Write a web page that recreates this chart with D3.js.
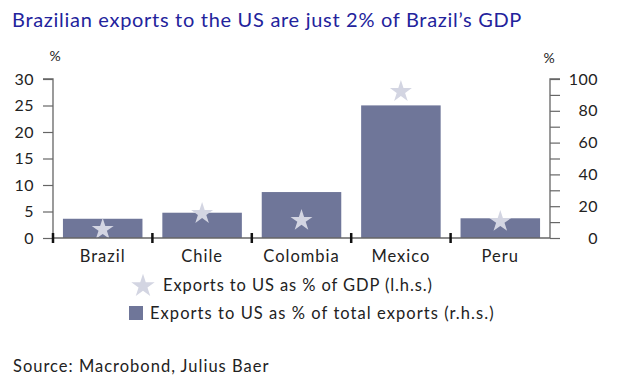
<!DOCTYPE html>
<html><head><meta charset="utf-8">
<script src="https://cdn.jsdelivr.net/npm/d3@7"></script>
<style>body{margin:0;background:#fff}svg{display:block}text{font-family:Lato,"Noto Sans",sans-serif}</style>
</head><body>
<script>
const categories = ["Brazil","Chile","Colombia","Mexico","Peru"];
const gdpShare = [1.8, 4.8, 3.5, 27.8, 3.3];        // l.h.s., stars
const exportShare = [12.1, 15.9, 28.9, 83.4, 12.4]; // r.h.s., bars
const leftTicks = [0,5,10,15,20,25,30];
const rightMajor = [0,20,40,60,80,100];
const rightMinor = [10,30,50,70,90];

const W=620,H=392;
const svg=d3.select("body").append("svg").attr("width",W).attr("height",H);
const x0=53,x1=550,yTop=79,yBot=238;
const x=d3.scaleBand().domain(categories).range([x0,x1]).paddingInner(0.2).paddingOuter(0.1);
const yL=d3.scaleLinear().domain([0,30]).range([yBot,yTop]);
const yR=d3.scaleLinear().domain([0,100]).range([yBot,yTop]);
const barColor="#6f7699", starColor="#d3d5e2", axisColor="#666", txt="#222";
const fs=16.5, ls=1;

svg.append("text").attr("x",12).attr("y",27).attr("fill","#23239c").attr("font-size",20).attr("letter-spacing",0.7).text("Brazilian exports to the US are just 2% of Brazil’s GDP");

// bars
svg.selectAll("rect.bar").data(categories).join("rect").attr("class","bar")
  .attr("x",d=>x(d)).attr("width",x.bandwidth())
  .attr("y",(d,i)=>yR(exportShare[i])).attr("height",(d,i)=>yBot-yR(exportShare[i]))
  .attr("fill",barColor);
// stars
const star=d3.symbol().type(d3.symbolStar).size(150);
svg.selectAll("path.star").data(categories).join("path").attr("class","star")
  .attr("d",star).attr("fill",starColor)
  .attr("transform",(d,i)=>`translate(${x(d)+x.bandwidth()/2},${yL(gdpShare[i])+1})`);

// left axis
const gL=svg.append("g").attr("transform",`translate(${x0},0)`)
  .call(d3.axisLeft(yL).tickValues(leftTicks).tickSize(10).tickPadding(9));
// right axis
const gR=svg.append("g").attr("transform",`translate(${x1},0)`)
  .call(d3.axisRight(yR).tickValues(rightMajor).tickSize(10).tickPadding(18));
const gRm=svg.append("g").attr("transform",`translate(${x1},0)`)
  .call(d3.axisRight(yR).tickValues(rightMinor).tickSize(10).tickFormat(""));
gRm.select(".domain").remove();
[gL,gR,gRm].forEach(g=>{
  g.selectAll(".domain").attr("stroke",axisColor).attr("stroke-width",1.3);
  g.selectAll(".tick line").attr("stroke",axisColor).attr("stroke-width",1.2);
  g.selectAll(".tick text").attr("font-size",16).attr("letter-spacing",0.5).attr("fill",txt);
});
gL.select(".domain").attr("d",`M-10,${yTop}H0V${yBot}`);
gR.select(".domain").attr("d",`M10,${yTop}H0V${yBot}`);
gR.selectAll(".tick text").attr("text-anchor","end").attr("x",48);

// x axis
const gX=svg.append("g").attr("transform",`translate(0,${yBot})`)
  .call(d3.axisBottom(x).tickSize(0).tickPadding(12));
gX.select(".domain").attr("stroke",axisColor).attr("stroke-width",1.3).attr("d",`M${x0},0H${x1}`);
gX.selectAll(".tick text").attr("font-size",fs).attr("letter-spacing",ls).attr("fill",txt);
const seps=categories.map(c=>x(c)-(x.step()*x.paddingInner())/2);
svg.append("g").selectAll("line").data(seps).join("line")
  .attr("x1",d=>d).attr("x2",d=>d).attr("y1",yBot-5).attr("y2",yBot+5)
  .attr("stroke","#111").attr("stroke-width",2.5);

svg.append("text").attr("x",55).attr("y",61).attr("text-anchor","middle").attr("font-size",14).attr("fill",txt).text("%");
svg.append("text").attr("x",549).attr("y",63).attr("text-anchor","middle").attr("font-size",14).attr("fill",txt).text("%");

// legend
svg.append("path").attr("d",d3.symbol().type(d3.symbolStar).size(170)()).attr("fill",starColor).attr("transform","translate(143,286)");
svg.append("text").attr("x",163).attr("y",291).attr("font-size",fs).attr("letter-spacing",0.9).attr("fill",txt).text("Exports to US as % of GDP (l.h.s.)");
svg.append("rect").attr("x",129).attr("y",306).attr("width",14).attr("height",14).attr("fill",barColor);
svg.append("text").attr("x",150).attr("y",319).attr("font-size",fs).attr("letter-spacing",1.05).attr("fill",txt).text("Exports to US as % of total exports (r.h.s.)");

svg.append("text").attr("x",13).attr("y",372).attr("font-size",fs).attr("letter-spacing",ls).attr("fill",txt).text("Source: Macrobond, Julius Baer");
</script>
</body></html>
